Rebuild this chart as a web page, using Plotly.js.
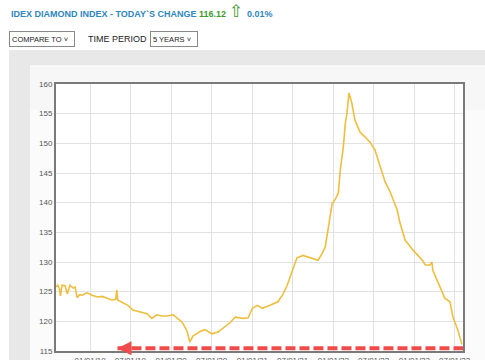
<!DOCTYPE html>
<html>
<head>
<meta charset="utf-8">
<script src="https://cdn.plot.ly/plotly-3.0.1.min.js"></script>
<style>
html,body{margin:0;padding:0;background:#fff;}
#chart{width:485px;height:360px;}
</style>
</head>
<body>
<div id="chart"></div>
<script>
// ---- data ----
const dates = [
 "2018-08-01","2018-08-08","2018-08-15","2018-08-20","2018-08-27","2018-09-10","2018-09-20",
 "2018-10-02","2018-10-16","2018-10-25","2018-11-03","2018-11-15","2018-11-26","2018-12-18",
 "2019-01-10","2019-02-02","2019-02-24","2019-03-15","2019-04-09","2019-04-26","2019-05-01",
 "2019-05-05","2019-05-28","2019-06-20","2019-07-12","2019-07-25","2019-08-13","2019-09-14",
 "2019-10-06","2019-10-29","2019-11-20","2019-12-13","2020-01-10","2020-01-28","2020-02-19",
 "2020-03-12","2020-03-25","2020-04-08","2020-05-10","2020-06-01","2020-07-03","2020-07-30",
 "2020-08-22","2020-09-23","2020-10-15","2020-11-20","2020-12-13","2021-01-01","2021-01-23",
 "2021-02-15","2021-03-21","2021-04-26","2021-05-18","2021-06-06","2021-06-28","2021-07-21",
 "2021-08-17","2021-09-18","2021-10-24","2021-11-11","2021-11-25","2021-12-08","2021-12-26",
 "2022-01-10","2022-01-23","2022-02-01","2022-02-15","2022-02-24","2022-03-03","2022-03-12",
 "2022-03-25","2022-04-08","2022-05-01","2022-05-23","2022-06-15","2022-07-07","2022-07-30",
 "2022-08-22","2022-09-14","2022-09-27","2022-10-15","2022-10-28","2022-11-20","2022-12-26",
 "2023-02-06","2023-02-19","2023-03-12","2023-03-21","2023-03-25","2023-04-26","2023-05-18",
 "2023-06-10","2023-06-24","2023-07-16","2023-08-03"
];
const indexValues = [
 125.8,126.1,125.5,124.3,126.1,126.0,124.6,
 126.1,125.6,125.8,124.0,124.5,124.4,124.8,
 124.4,124.1,124.2,123.9,123.6,123.7,125.3,
 123.6,123.1,122.7,121.9,121.8,121.6,121.3,
 120.5,121.1,120.9,120.9,121.1,120.6,119.9,
 118.4,116.5,117.5,118.3,118.6,117.9,118.2,
 118.9,119.8,120.7,120.5,120.6,122.2,122.7,
 122.2,122.7,123.3,124.5,126.0,128.3,130.7,
 131.1,130.7,130.3,131.4,132.5,135.5,139.8,
 140.6,141.6,145.5,149.5,153.5,155.0,158.5,
 156.8,153.9,151.9,151.1,150.2,148.9,146.0,
 143.5,141.8,140.4,138.8,136.6,133.7,132.0,
 130.3,129.5,129.5,130.0,128.6,125.8,123.9,
 123.3,120.7,118.5,116.12
];
const xTickVals = ["2019-01-01","2019-07-01","2020-01-01","2020-07-01","2021-01-01","2021-07-01","2022-01-01","2022-07-01","2023-01-01","2023-07-01"];
const xTickText = ["01/01/19","07/01/19","01/01/20","07/01/20","01/01/21","07/01/21","01/01/22","07/01/22","01/01/23","07/01/23"];
const yTickVals = [115,120,125,130,135,140,145,150,155,160];
const arrowX = ["2019-05-04","2023-08-08"];
const arrowY = [115.45,115.45];

// ---- layout helpers (pixel -> paper) ----
const W=485,H=360,L=56,R=22,T=84,B=9;
const PW=W-L-R, PH=H-T-B;
const px = x => (x-L)/PW;
const py = y => (H-B-y)/PH;

const trace = {
  x: dates, y: indexValues, type:'scatter', mode:'lines',
  line:{color:'#EFBE3E', width:1.6}, hoverinfo:'skip'
};

const tickFont = {family:'Liberation Sans, Arial, sans-serif', size:8, color:'#555'};
const hdrFont = {family:'Liberation Sans, Arial, sans-serif', size:9};

const layout = {
  width:W, height:H,
  margin:{l:L, r:R, t:T, b:B, pad:0},
  paper_bgcolor:'#ffffff', plot_bgcolor:'#ffffff',
  showlegend:false,
  xaxis:{
    type:'date', range:["2018-07-31","2023-08-08"],
    tickvals:xTickVals, ticktext:xTickText,
    showgrid:true, gridcolor:'#e2e2e2', gridwidth:1,
    showline:true, linecolor:'#7a7a7a', linewidth:2, mirror:true,
    ticks:'', tickfont:tickFont, zeroline:false, fixedrange:true
  },
  yaxis:{
    range:[115,160], tickvals:yTickVals,
    showgrid:true, gridcolor:'#e2e2e2', gridwidth:1,
    showline:true, linecolor:'#7a7a7a', linewidth:2, mirror:true,
    ticks:'', tickfont:tickFont, zeroline:false, fixedrange:true
  },
  shapes:[
    {type:'rect', xref:'paper', yref:'paper', x0:px(9), x1:px(495), y0:py(50), y1:py(370), fillcolor:'#e8e8e8', line:{width:0}, layer:'below'},
    {type:'rect', xref:'paper', yref:'paper', x0:px(30), x1:px(495), y0:py(65), y1:py(370), fillcolor:'#f7f7f7', line:{width:0}, layer:'below'},
    {type:'rect', xref:'paper', yref:'paper', x0:px(30), x1:px(495), y0:py(110), y1:py(370), fillcolor:'#fbfbfb', line:{width:0}, layer:'below'},
    {type:'rect', xref:'paper', yref:'paper', x0:0, x1:1, y0:0, y1:1, fillcolor:'#ffffff', line:{width:0}, layer:'below'},
    {type:'line', xref:'x', yref:'y', x0:arrowX[0], x1:arrowX[1], y0:arrowY[0], y1:arrowY[1],
     line:{color:'#F04B4B', width:4, dash:'10px,4px'}, layer:'above'}
  ],
  annotations:[
    {xref:'paper', yref:'paper', x:px(9), y:py(14), xanchor:'left', yanchor:'middle', showarrow:false,
     text:'<b>IDEX DIAMOND INDEX - TODAY`S CHANGE</b> <b><span style="color:#3E9A2E">116.12</span></b>',
     font:Object.assign({}, hdrFont, {color:'#2E86BE'})},
    {xref:'paper', yref:'paper', x:px(236), y:py(11), xanchor:'center', yanchor:'middle', showarrow:false,
     text:'⇧', font:{family:'DejaVu Sans', size:17, color:'#3E9A2E'}},
    {xref:'paper', yref:'paper', x:px(245), y:py(14), xanchor:'left', yanchor:'middle', showarrow:false,
     text:'<b>0.01%</b>', font:Object.assign({}, hdrFont, {color:'#2E86BE'})},
    {xref:'paper', yref:'paper', x:px(9), y:py(39), xanchor:'left', yanchor:'middle', showarrow:false,
     text:'COMPARE TO ˅', width:60, height:10, align:'left', borderpad:2,
     bgcolor:'#ffffff', bordercolor:'#8a8a8a', borderwidth:1,
     font:{family:'Liberation Sans, Arial, sans-serif', size:7.5, color:'#222'}},
    {xref:'paper', yref:'paper', x:px(86), y:py(39), xanchor:'left', yanchor:'middle', showarrow:false,
     text:'TIME PERIOD', font:{family:'Liberation Sans, Arial, sans-serif', size:9, color:'#222'}},
    {xref:'paper', yref:'paper', x:px(150), y:py(39), xanchor:'left', yanchor:'middle', showarrow:false,
     text:'5 YEARS ˅', width:42, height:10, align:'left', borderpad:2,
     bgcolor:'#ffffff', bordercolor:'#8a8a8a', borderwidth:1,
     font:{family:'Liberation Sans, Arial, sans-serif', size:7.5, color:'#222'}},
    {xref:'x', yref:'y', axref:'x', ayref:'y', x:arrowX[0], y:arrowY[0], ax:"2019-06-10", ay:arrowY[0],
     showarrow:true, arrowhead:2, arrowsize:0.7, arrowwidth:4, arrowcolor:'#F04B4B', text:''}
  ]
};

Plotly.newPlot('chart', [trace], layout, {staticPlot:true, displayModeBar:false});
</script>
</body>
</html>
